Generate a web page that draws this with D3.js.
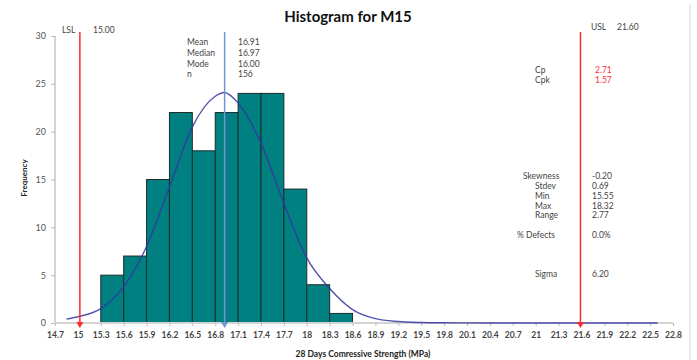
<!DOCTYPE html>
<html>
<head>
<meta charset="utf-8">
<script src="https://cdn.jsdelivr.net/npm/d3@7"></script>
<style>
  body { margin: 0; background: #fff; }
  svg { display: block; font-family: Lato, "Open Sans", sans-serif; }
</style>
</head>
<body>
<svg id="chart" width="697" height="360"></svg>
<script>
// histogram bins (lower edge, upper edge, count)
var binStart = [15.3, 15.6, 15.9, 16.2, 16.5, 16.8, 17.1, 17.4, 17.7, 18.0, 18.3];
var binEnd   = [15.6, 15.9, 16.2, 16.5, 16.8, 17.1, 17.4, 17.7, 18.0, 18.3, 18.6];
var binCount = [5, 7, 15, 22, 18, 22, 24, 24, 14, 4, 1];

// fitted curve
var curveX = [14.85, 15.0, 15.3, 15.6, 15.9, 16.2, 16.5, 16.8, 16.92, 17.1, 17.4, 17.7, 18.0, 18.3, 18.6, 18.9, 19.2, 19.5, 19.8, 20.4, 21.0, 21.6, 22.2, 22.6];
var curveY = [0.4, 0.65, 1.5, 3.8, 8.0, 14.2, 20.5, 23.7, 24.1, 23.0, 18.8, 12.5, 6.8, 3.6, 1.4, 0.45, 0.15, 0.05, 0.02, 0, 0, 0, 0, 0];

var xTicks = ["14.7","15","15.3","15.6","15.9","16.2","16.5","16.8","17.1","17.4","17.7","18","18.3","18.6","18.9","19.2","19.5","19.8","20.1","20.4","20.7","21","21.3","21.6","21.9","22.2","22.5","22.8"];
var yTicks = [0, 5, 10, 15, 20, 25, 30];

var lsl = 15.00, usl = 21.60, mean = 16.91;

var statsTop = [["Mean","16.91"],["Median","16.97"],["Mode","16.00"],["n","156"]];
var capLabels = ["Cp", "Cpk"];
var capValues = ["2.71", "1.57"];
var statLabels = ["Skewness", "Stdev", "Min", "Max", "Range", "% Defects", "Sigma"];
var statValues = ["-0.20", "0.69", "15.55", "18.32", "2.77", "0.0%", "6.20"];

var svg = d3.select("#chart");

var x = d3.scaleLinear().domain([14.7, 22.8]).range([55, 673]);
var y = d3.scaleLinear().domain([0, 30]).range([323, 36]);

// title
svg.append("text").attr("x", 348).attr("y", 22).attr("text-anchor", "middle")
  .style("font-size", "15px").style("font-weight", "bold").attr("fill", "#111")
  .text("Histogram for M15");

// right frame edge
svg.append("line").attr("x1", 690).attr("x2", 690).attr("y1", 4).attr("y2", 360)
  .attr("stroke", "#d8d8d8").attr("stroke-width", 1);

// bars
svg.selectAll("rect.bar").data(binCount).enter().append("rect")
  .attr("class", "bar")
  .attr("x", function(d, i) { return x(binStart[i]); })
  .attr("width", function(d, i) { return x(binEnd[i]) - x(binStart[i]); })
  .attr("y", function(d) { return y(d); })
  .attr("height", function(d) { return y(0) - y(d); })
  .attr("fill", "#008080")
  .attr("stroke", "#1d2d2d").attr("stroke-width", 1);

// axes
var yAxis = svg.append("g").attr("transform", "translate(55,0)")
  .call(d3.axisLeft(y).tickValues(yTicks).tickSize(4).tickPadding(5));
yAxis.select(".domain").attr("stroke", "#d4d4d4").attr("stroke-width", 2)
  .attr("d", "M0," + y(30) + "V" + (y(0) + 1));
yAxis.selectAll(".tick line").attr("stroke", "#bbb");
yAxis.selectAll(".tick text").attr("fill", "#555").style("font-size", "9px")
  .style("font-family", "Lato, sans-serif");

var xAxis = svg.append("g").attr("transform", "translate(0,323)")
  .call(d3.axisBottom(x).tickValues(xTicks.map(Number)).tickSize(3).tickPadding(6)
    .tickFormat(function(d, i) { return xTicks[i]; }));
xAxis.select(".domain").attr("stroke", "#d4d4d4").attr("stroke-width", 2)
  .attr("d", "M54,0H673");
xAxis.selectAll(".tick line").attr("stroke", "#bbb");
xAxis.selectAll(".tick text").attr("fill", "#444").style("font-size", "8.5px")
  .style("font-weight", "bold").style("font-family", "Lato, sans-serif");

// curve
var line = d3.line()
  .x(function(d, i) { return x(curveX[i]); })
  .y(function(d) { return y(d); })
  .curve(d3.curveMonotoneX);
svg.append("path").datum(curveY).attr("d", line)
  .attr("fill", "none").attr("stroke", "#3535a0").attr("stroke-width", 1.4)
  .attr("stroke-opacity", 0.85);

// spec limits and mean lines with arrow heads
function marker(v, color, shift) {
  var px = x(v) + shift;
  svg.append("line").attr("x1", px).attr("x2", px).attr("y1", 32).attr("y2", 323)
    .attr("stroke", color).attr("stroke-width", 1.5);
  svg.append("path")
    .attr("d", "M" + (px - 3.5) + ",322L" + (px + 3.5) + ",322L" + px + ",328Z")
    .attr("fill", color);
}
marker(lsl, "#ff2a2a", 2);
marker(usl, "#ff2a2a", -1);
marker(mean, "#6f95d6", 1);

var small = function(sel) {
  return sel.style("font-size", "8.5px").attr("fill", "#444");
};

small(svg.append("text").attr("x", 62).attr("y", 33).text("LSL"));
small(svg.append("text").attr("x", 93).attr("y", 33).text(lsl.toFixed(2)));
small(svg.append("text").attr("x", 591).attr("y", 30).text("USL"));
small(svg.append("text").attr("x", 617).attr("y", 30).text(usl.toFixed(2)));

statsTop.forEach(function(r, i) {
  small(svg.append("text").attr("x", 187).attr("y", 45 + i * 10.8).text(r[0]));
  small(svg.append("text").attr("x", 238).attr("y", 45 + i * 10.8).text(r[1]));
});

capLabels.forEach(function(t, i) {
  small(svg.append("text").attr("x", 535).attr("y", 73 + i * 10).text(t));
  svg.append("text").attr("x", 595).attr("y", 73 + i * 10).text(capValues[i])
    .style("font-size", "8.5px").attr("fill", "#ff3030");
});

var statY = [179, 189, 198.8, 208.6, 218.4, 237.5, 276.5];
var statX = [523, 535, 535, 535, 535, 517, 535];
statLabels.forEach(function(t, i) {
  small(svg.append("text").attr("x", statX[i]).attr("y", statY[i]).text(t));
  small(svg.append("text").attr("x", 592).attr("y", statY[i]).text(statValues[i]));
});

// axis titles
svg.append("text").attr("x", 363).attr("y", 357).attr("text-anchor", "middle")
  .style("font-size", "8.5px").style("font-weight", "bold").attr("fill", "#222")
  .text("28 Days Comressive Strength (MPa)");
svg.append("text").attr("transform", "translate(27,178) rotate(-90)")
  .attr("text-anchor", "middle")
  .style("font-size", "8px").style("font-weight", "bold").attr("fill", "#222")
  .text("Frequency");
</script>
</body>
</html>
